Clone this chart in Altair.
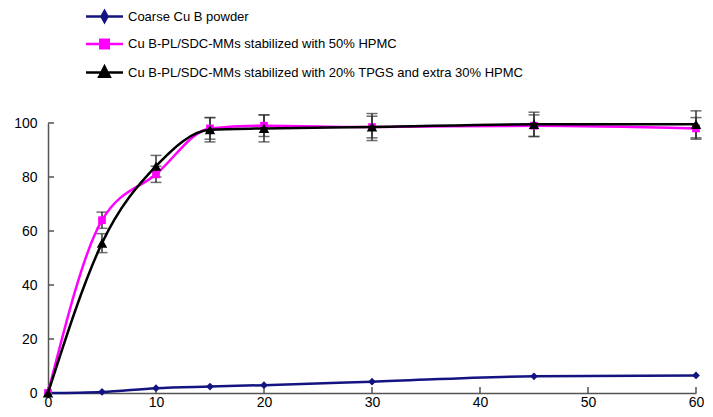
import altair as alt
import pandas as pd

# ---- data ----
times = [0, 5, 10, 15, 20, 30, 45, 60]
coarse = [0, 0.4, 1.8, 2.4, 2.9, 4.2, 6.2, 6.5]
hpmc = [0, 64, 81, 98, 99, 98.5, 99, 98]
hpmc_err = [0, 3, 3, 4, 4, 4, 4, 4]
tpgs = [0, 55.5, 84, 97.5, 98, 98.5, 99.5, 99.5]
tpgs_err = [0, 3.5, 4, 4.5, 5, 5, 4.5, 5]

series_names = [
    "Coarse Cu B powder",
    "Cu B-PL/SDC-MMs stabilized with 50% HPMC",
    "Cu B-PL/SDC-MMs stabilized with 20% TPGS and extra 30% HPMC",
]
series_colors = ["#141480", "#ff00ff", "#000000"]
series_shapes = ["diamond", "square", "triangle-up"]
series_sizes = [60, 60, 110]
legend_paths = [
    "M-3.7,0H3.7M0,-1.1L0.6,0L0,1.1L-0.6,0Z",
    "M-3.7,0H3.7M-0.85,-0.85H0.85V0.85H-0.85Z",
    "M-3.7,0H3.7M0,-1.2L1.05,0.85H-1.05Z",
]

x_ticks = [0, 10, 20, 30, 40, 50, 60]
y_ticks = [0, 20, 40, 60, 80, 100]

W, H = 648, 270
FONT = "Liberation Sans"

xscale = alt.Scale(domain=[0, 60], nice=False, zero=False)
yscale = alt.Scale(domain=[0, 100], nice=False)

xaxis = alt.Axis(values=x_ticks, title=None, grid=False, tickSize=0, labelPadding=2,
                 labelFont=FONT, labelFontSize=14, labelColor="#000",
                 domainColor="#555", domainWidth=1.5, labelFlush=False)
yaxis = alt.Axis(values=y_ticks, title=None, grid=False, tickSize=0, labelPadding=11,
                 labelFont=FONT, labelFontSize=14, labelColor="#000",
                 domainColor="#555", domainWidth=1.5)

values_list = [coarse, hpmc, tpgs]
errs_list = [None, hpmc_err, tpgs_err]

layers = []

# inward ticks
xt = pd.DataFrame({"t": x_ticks})
yt = pd.DataFrame({"v": y_ticks})
layers.append(alt.Chart(xt).mark_rule(color="#555", strokeWidth=1.5).encode(
    x=alt.X("t:Q", scale=xscale, axis=xaxis),
    y=alt.value(H), y2=alt.value(H - 6)))
layers.append(alt.Chart(yt).mark_rule(color="#555", strokeWidth=1.5).encode(
    y=alt.Y("v:Q", scale=yscale, axis=yaxis),
    x=alt.value(0), x2=alt.value(6)))

# error bars
for vals, errs in zip(values_list, errs_list):
    if errs is None:
        continue
    df = pd.DataFrame({"t": times, "lo": [v - e for v, e in zip(vals, errs)],
                       "hi": [v + e for v, e in zip(vals, errs)], "e": errs})
    df = df[df["e"] > 0]
    base = alt.Chart(df)
    layers.append(base.mark_rule(color="#333", strokeWidth=1.5).encode(
        x=alt.X("t:Q", scale=xscale), y=alt.Y("lo:Q", scale=yscale), y2="hi:Q"))
    layers.append(base.mark_tick(orient="horizontal", color="#333", size=11, thickness=1.5).encode(
        x=alt.X("t:Q", scale=xscale), y=alt.Y("lo:Q", scale=yscale)))
    layers.append(base.mark_tick(orient="horizontal", color="#333", size=11, thickness=1.5).encode(
        x=alt.X("t:Q", scale=xscale), y=alt.Y("hi:Q", scale=yscale)))

# lines and markers
for name, vals, col, shp, sz in zip(series_names, values_list, series_colors, series_shapes, series_sizes):
    df = pd.DataFrame({"t": times, "v": vals})
    base = alt.Chart(df)
    layers.append(base.mark_line(color=col, strokeWidth=2.5, interpolate="monotone").encode(
        x=alt.X("t:Q", scale=xscale), y=alt.Y("v:Q", scale=yscale)))
    layers.append(base.mark_point(shape=shp, filled=True, color=col, size=sz, opacity=1).encode(
        x=alt.X("t:Q", scale=xscale), y=alt.Y("v:Q", scale=yscale)))

# legend-only layer (points clipped away)
leg_df = pd.DataFrame({"series": series_names})
legend = alt.Legend(orient="none", legendX=50, legendY=-113, title=None,
                    labelFont=FONT, labelFontSize=13, labelColor="#000", labelLimit=0,
                    symbolSize=100, symbolStrokeWidth=2.5, rowPadding=7.5,
                    labelOffset=17, padding=0, symbolOpacity=1)
layers.append(alt.Chart(leg_df).mark_point(filled=True, clip=True, strokeWidth=2.5).encode(
    x=alt.value(-200), y=alt.value(-200),
    fill=alt.Fill("series:N", scale=alt.Scale(domain=series_names, range=series_colors), legend=legend),
    stroke=alt.Stroke("series:N", scale=alt.Scale(domain=series_names, range=series_colors), legend=legend),
    shape=alt.Shape("series:N", scale=alt.Scale(domain=series_names, range=legend_paths), legend=legend),
))

chart = alt.layer(*layers).properties(
    width=W, height=H,
    padding={"left": 5, "top": 2, "right": 0, "bottom": 0},
).configure(background="white").configure_view(stroke="transparent", strokeWidth=0)

chart.save("out.html", embed_options={"renderer": "svg", "actions": False})
